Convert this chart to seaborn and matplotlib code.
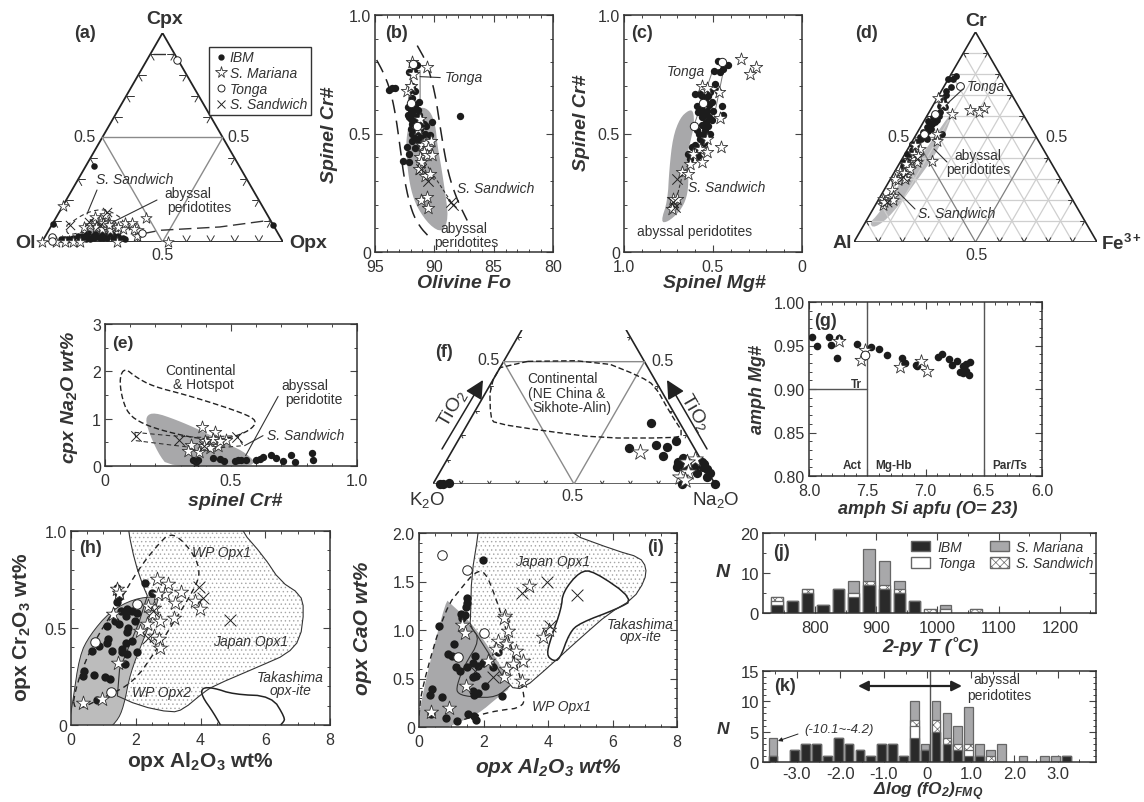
import numpy as np
import matplotlib
matplotlib.use("Agg")
import matplotlib.pyplot as plt
import seaborn as sns
from matplotlib.lines import Line2D
from matplotlib.patches import Patch, FancyArrowPatch

# ---- (a) ternary Ol-Opx-Cpx, opx and cpx fractions
a_ibm_opx = [.07,.082,.095,.11,.135,.14,.152,.165,.18,.195,.21,.222,.238,.25,.27,.285,.3,.325,.335,.032,.002,.919,.16,.175,.19,.205,.215,.23,.245,.26,.12,.15,.17,.2,.23,.26,.285,.31,.10,.085]
a_ibm_cpx = [.015,.015,.015,.015,.03,.025,.03,.035,.02,.03,.03,.035,.035,.03,.04,.03,.03,.02,.015,.364,.085,.08,.02,.015,.015,.02,.025,.02,.02,.02,.02,.02,.045,.04,.04,.04,.02,.015,.01,.01]
a_mar_opx = [0,.06,.097,.128,.159,0,.31,.524,.372,.38,.372,.332,.306,.267,.228,.189,.17,.16,.198,.255,.14,.16,.21,.24,.28,.30,.22,.19,.33,.35]
a_mar_cpx = [0,0,0,0,0,.172,0,0,.116,.029,.056,.08,.064,.072,.096,.104,.1,.08,.128,.056,.07,.12,.09,.08,.07,.09,.06,.07,.09,.06]
a_ton_opx = [.123,.03,.04,.395]
a_ton_cpx = [.872,.024,.003,.043]
a_san_opx = [.077,.197,.145,.2]
a_san_cpx = [.08,.144,.096,.08]
a_aby_opx = [.165,.19,.245,.3,.273,.194]
a_aby_cpx = [.056,.104,.104,.064,.048,.04]
a_sfield_opx = [.063,.114,.189,.304,.286,.148,.087,.063]
a_sfield_cpx = [.08,.144,.16,.096,.048,.048,.032,.08]
a_long_opx = [.40,.462,.702,.893]
a_long_cpx = [.04,.056,.072,.104]
a_top_opx = [.012,.094]
a_top_cpx = [.901,.901]

# ---- (b) olivine Fo vs spinel Cr#
b_ibm_fo = [92.6,92.1,92.1,92.3,91.9,91.6,91.3,91.1,90.8,90.4,90.7,90.2,91.2,91.5,91.9,92.0,92.2,92.0,91.7,91.4,91.3,91.9,92.2,92.1,91.6,92.1,91.9,91.6,92.1,91.7,91.5,93.8,93.6,93.3,87.85,91.9,91.5,91.7,91.4,91.1,91.9,91.6,91.9,92.0,91.3,90.9,91.6,91.2]
b_ibm_cr = [.383,.381,.414,.442,.47,.48,.47,.49,.50,.495,.53,.55,.52,.53,.54,.56,.58,.60,.60,.60,.635,.62,.61,.57,.57,.68,.70,.68,.76,.765,.79,.685,.69,.69,.575,.5,.51,.55,.56,.55,.58,.62,.65,.52,.58,.54,.44,.46]
b_mar_fo = [91.9,91.8,90.6,92.3,92.0,91.2,91.4,91.0,90.7,90.3,90.5,90.9,91.2,90.6,90.2,91.1,91.3,90.8,90.4,91.1,90.6,90.5]
b_mar_cr = [.80,.75,.78,.68,.70,.56,.52,.45,.46,.47,.44,.42,.40,.41,.41,.38,.35,.32,.33,.22,.23,.185]
b_ton_fo = [91.8,92.0,91.5]
b_ton_cr = [.795,.63,.53]
b_san_fo = [91.1,90.5,88.6,88.4]
b_san_cr = [.35,.30,.21,.2]
b_aby_fo = [91.08,90.37,89.95,89.8,89.5,89.2,88.9,89.4,90.4,91.4,91.9,92.2,92.3,91.8]
b_aby_cr = [.60,.583,.527,.449,.365,.267,.155,.098,.126,.197,.267,.365,.478,.569]
b_dashl_fo = [94.86,94.3,93.74,93.3,92.9,92.5,91.9,91.2,90.5]
b_dashl_cr = [.81,.758,.688,.59,.449,.295,.169,.105,.067]
b_dashr_fo = [91.44,90.65,89.95,89.53,89.11,88.7,88.0,87.23]
b_dashr_cr = [.871,.80,.674,.534,.407,.309,.211,.133]

# ---- (c) spinel Mg# vs Cr#
c_ibm_mg = [.47,.494,.442,.414,.46,.489,.47,.517,.601,.573,.507,.545,.592,.451,.442,.498,.582,.564,.536,.507,.564,.592,.545,.517,.573,.62,.639,.629,.582,.554,.55,.52,.56,.54,.58,.53,.6,.58,.55,.53,.56,.52]
c_ibm_cr = [.808,.765,.772,.787,.758,.709,.681,.674,.667,.667,.632,.639,.618,.618,.579,.597,.59,.569,.597,.555,.534,.513,.513,.499,.478,.442,.414,.393,.407,.492,.58,.62,.6,.55,.5,.53,.45,.43,.46,.66,.66,.57]
c_mar_mg = [.345,.258,.292,.564,.536,.464,.461,.455,.536,.573,.536,.61,.564,.629,.676,.639,.723,.704,.732]
c_mar_cr = [.815,.782,.751,.699,.691,.677,.565,.445,.478,.435,.421,.414,.379,.372,.337,.33,.225,.225,.183]
c_ton_mg = [.451,.558,.607]
c_ton_cr = [.80,.629,.53]
c_san_mg = [.704,.723,.713]
c_san_cr = [.309,.21,.19]
c_aby_mg = [.639,.614,.61,.629,.648,.639,.648,.685,.751,.788,.751,.742,.723,.685]
c_aby_cr = [.586,.583,.527,.463,.407,.309,.239,.183,.14,.14,.225,.351,.478,.555]

# ---- (d) ternary Al-Fe3+-Cr, fe and cr fractions
d_ibm_fe = [.026,.02,.031,.027,.028,.053,.035,.03,.016,.026,.038,.024,.022,.054,.106,.004,.02,.007,.013,.026,.049,.0,.03,.04,.045,.05,.04,.05,.03,.04,.035,.03,.045,.025,.02,.03,.02,.035,.045,.02]
d_ibm_cr = [.791,.775,.736,.68,.649,.641,.609,.593,.578,.546,.562,.522,.498,.49,.514,.467,.475,.419,.38,.435,.582,.775,.70,.66,.62,.60,.58,.57,.55,.53,.51,.49,.5,.46,.44,.4,.36,.56,.54,.72]
d_mar_fe = [.215,.204,.165,.097,.003,.039,.083,.1,.128,.05,.046,.041,.068,.023,.058,.035,.041,.018,.031,.02,.035,.06,.03,.055,.04,.02,.06,.03,.05,.03,.06]
d_mar_cr = [.638,.62,.628,.609,.688,.657,.514,.483,.388,.443,.396,.364,.38,.332,.316,.293,.214,.206,.174,.46,.42,.41,.37,.35,.33,.30,.30,.25,.22,.19,.2]
d_ton_fe = [.065,.029,.031]
d_ton_cr = [.741,.609,.514]
d_san_fe = [.048,.039,.06]
d_san_cr = [.309,.19,.396]
d_aby_fe = [.1,.088,.077,.052,.036,.021,.053,.091,.113,.126]
d_aby_cr = [.601,.585,.443,.301,.142,.103,.079,.142,.316,.427]

# ---- (e) spinel Cr# vs cpx Na2O
e_ibm_cr = [.349,.369,.362,.429,.455,.471,.515,.528,.541,.558,.598,.614,.627,.657,.677,.706,.737,.753,.821,.827]
e_ibm_na = [.127,.127,.077,.162,.148,.113,.113,.134,.134,.134,.134,.148,.197,.239,.169,.113,.239,.077,.268,.127]
e_mar_cr = [.385,.435,.481,.448,.429,.396,.343,.329,.373,.415,.392,.455]
e_mar_na = [.817,.711,.556,.43,.57,.535,.444,.324,.303,.373,.43,.535]
e_san_cr = [.124,.292,.392,.525,.362]
e_san_na = [.641,.549,.43,.606,.042]
e_aby_cr = [.171,.204,.283,.376,.481,.548,.598,.257,.217,.177]
e_aby_na = [1.03,1.10,.958,.746,.465,.289,.007,.007,.289,.782]
e_con_cr = [.058,.078,.124,.19,.323,.481,.587,.6,.561,.481,.376,.243,.151,.091,.065,.058]
e_con_na = [1.873,2.07,1.873,1.683,1.5,1.239,1.028,.887,.711,.57,.57,.725,.887,1.099,1.486,1.873]
e_sf_cr = [.118,.257,.376,.525,.548,.402,.283,.124,.118]
e_sf_na = [.711,.641,.606,.641,.43,.359,.43,.535,.711]

# ---- (f) ternary K2O-Na2O-TiO2, na and ti fractions
f_ibm_na = [.648,.622,.71,.754,.775,.756,.834,.829,.848,.844,.908,.912,.925,.96,1.0,.882,.024,.036,.055,.835,.845,.84,.83,.825,.86,.85,.92,.94,.955,.89]
f_ibm_ti = [.249,.146,.161,.153,.174,.116,.095,.082,.089,.075,.089,.045,.068,.045,0,0,0,0,.004,.105,.1,.09,.07,.09,.08,.08,.08,.06,.03,.07]
f_mar_na = [.67,.878,.855,.88,.862,.885]
f_mar_ti = [.129,.102,.089,.05,.027,.016]
f_con_na = [.0,.341,.514,.586,.693,.794,.746,.498,.281,.095,.068,.0]
f_con_ti = [.5,.505,.44,.402,.293,.198,.188,.188,.218,.248,.272,.402]

# ---- (g) amphibole Si vs Mg#
g_ibm_si = [7.97,7.93,7.83,7.81,7.74,7.76,7.59,7.47,7.4,7.33,7.2,7.18,7.08,7.07,6.89,6.86,6.8,6.77,6.73,6.7,6.68,6.65,6.62,6.68,6.63,6.65]
g_ibm_mg = [.96,.949,.96,.951,.959,.936,.952,.948,.946,.939,.936,.93,.928,.926,.937,.94,.934,.928,.932,.92,.926,.929,.931,.918,.916,.921]
g_mar_si = [7.74,7.52,7.55,7.22,7.04,6.99]
g_mar_mg = [.955,.945,.933,.925,.932,.921]
g_ton_si = [7.52]
g_ton_mg = [.939]

# ---- (h) opx Al2O3 vs Cr2O3
h_ibm_al = [1.41,1.46,1.49,1.43,2.29,2.49,1.53,1.72,1.87,2.03,1.7,1.98,1.36,1.49,1.1,1.77,1.72,1.15,1.1,.88,.64,1.26,1.57,1.7,1.87,2.05,1.74,1.57,1.67,.41,.36,.72,1.05,1.2,.81]
h_ibm_cr = [.708,.682,.662,.634,.73,.682,.588,.596,.588,.579,.562,.536,.536,.519,.51,.502,.479,.442,.421,.407,.381,.381,.39,.424,.433,.376,.364,.376,.316,.278,.253,.258,.247,.235,.127]
h_mar_al = [1.43,1.49,1.31,1.46,.36,.95,2.65,3.0,2.9,3.4,3.21,3.83,3.99,3.18,2.7,2.56,2.39,2.49,2.75,2.34,2.13,2.56,2.73,2.75]
h_mar_cr = [.699,.682,.57,.321,.115,.132,.751,.725,.674,.687,.631,.639,.6,.55,.674,.605,.613,.57,.536,.519,.485,.459,.445,.399]
h_ton_al = [2.03,.73,1.23]
h_ton_cr = [.622,.43,.17]
h_san_al = [3.96,4.07,4.91,2.54,2.39]
h_san_cr = [.713,.656,.54,.588,.45]
h_aby_al = [-.1,.07,.28,.59,1.2,1.93,2.65,2.63,2.23,1.82,1.62,1.41,.9,-.1]
h_aby_cr = [-.05,.115,.356,.459,.579,.644,.656,.613,.442,.27,.098,.021,-.05,-.05]
h_jap_al = [1.74,1.77,1.98,2.23,2.4,1.2,2.13,3.11,3.47,4.09,4.4,5.84,6.66,7.08,7.2,7.08,6.46,5.94,5.27,5.1]
h_jap_cr = [1.1,1.0,.837,.716,.65,.167,.098,.064,.081,.167,.201,.304,.364,.442,.596,.674,.742,.871,1.0,1.1]
h_tak_al = [4.04,4.4,5.02,6.2,6.61,6.56,6.2,4.75,4.4,4.04]
h_tak_cr = [.192,.192,.158,.149,.038,.012,-.04,-.04,.064,.149]
h_wp_al = [.02,.18,.69,1.41,2.08,2.65,3.06,3.47,3.88,3.99,3.68,3.16,2.65,1.93,1.0,.02]
h_wp_cr = [.064,.218,.424,.613,.802,.923,.991,.948,.854,.768,.665,.527,.39,.218,.141,.064]

# ---- (i) opx Al2O3 vs CaO
i_ibm_al = [1.99,1.5,1.48,1.46,1.29,1.44,1.32,.62,1.09,.89,1.01,1.74,1.15,1.27,1.48,1.68,1.99,1.84,2.28,1.66,1.76,2.06,.39,.34,.7,1.68,1.84,1.7,2.56,1.53,1.7,1.76,1.17,.83,.36,2.46]
i_ibm_ca = [1.72,1.33,1.28,1.24,1.17,1.15,1.12,1.04,.856,.753,.735,.735,.615,.58,.615,.66,.656,.632,.615,.512,.529,.426,.392,.33,.306,.375,.35,.333,.323,.134,.117,.076,.065,.093,.134,.77]
i_mar_al = [.36,.94,1.46,1.32,1.42,3.41,2.66,2.63,2.77,3.83,4.02,2.46,2.38,2.71,3.02,2.15,2.9,3.21,2.71,2.63,3.18]
i_mar_ca = [.151,.199,.426,1.05,.969,1.45,1.148,1.12,.986,.924,1.003,.89,.804,.856,.787,.684,.649,.677,.598,.512,.478]
i_ton_al = [.72,1.5,2.01,1.21]
i_ton_ca = [1.773,1.622,.969,.725]
i_san_al = [3.2,3.98,4.9,4.06,2.3,1.73]
i_san_ca = [1.378,1.498,1.361,1.045,.512,.58]
i_aby_al = [-.1,.08,.34,.86,.96,1.48,1.89,2.3,2.82,2.4,1.79,1.17,.44,-.1]
i_aby_ca = [-.1,.186,.598,1.268,1.234,1.079,.907,.701,.426,.323,.151,.065,-.05,-.1]
i_jap_al = [1.88,1.84,1.63,1.6,1.58,1.9,2.8,3.23,4.06,5.09,5.86,6.64,7.0,7.05,6.84,6.12,4.62,4.4]
i_jap_ca = [2.2,2.0,1.56,1.148,1.045,.9,.41,.392,.632,.942,1.165,1.32,1.509,1.646,1.749,1.818,2.0,2.2]
i_in_al = [1.58,1.9,1.4,1.17,1.19,1.68,2.4,2.82]
i_in_ca = [1.045,.9,.63,.426,.34,.306,.306,.426]
i_tak_al = [4.47,4.98,5.4,6.64,6.12,4.98,4.67,4.37,4.16,3.97,4.11,4.42]
i_tak_ca = [1.388,1.595,1.601,1.313,1.216,1.072,.976,.701,.691,.753,.924,1.216]
i_wp_al = [0,.08,.8,1.37,1.73,2.04,2.4,2.92,3.23,3.28,2.4,1.79,1.27]
i_wp_ca = [.117,.392,1.216,1.457,1.595,1.612,1.32,.77,.392,.203,.168,.117,.065]

# ---- (j) 2-py T histogram
j_t = [738,763,788,813,838,863,888,913,938,963,988,1013,1063]
j_ibm = [2,3,5,2,6,4,7,6,5,3,0,0,0]
j_ton = [1,0,0,0,0,1,0,0,0,0,0,1,0]
j_san = [1,0,1,0,0,0,1,1,1,0,1,0,1]
j_mar = [0,0,0,0,0,3,8,6,2,0,0,1,0]

# ---- (k) dlog fO2 histogram
k_fo2 = [-3.55,-3.05,-2.8,-2.55,-2.3,-2.05,-1.8,-1.55,-1.3,-1.05,-.8,-.55,-.3,-.05,.2,.45,.7,.95,1.2,1.45,1.7,2.2,2.7,2.95,3.2]
k_ibm = [1,2,3,3,1,4,3,2,1,3,3,1,4,2,5,3,2,1,1,0,0,0,0,0,1]
k_ton = [0,0,0,0,0,0,0,0,0,0,0,0,2,0,0,0,0,1,0,0,0,0,0,0,0]
k_san = [0,0,0,0,0,0,0,0,0,0,0,0,1,0,2,1,1,1,0,1,0,0,0,0,0]
k_mar = [3,0,0,0,0,0,0,0,0,0,0,0,3,1,3,4,3,6,2,1,3,1,1,1,0]

W, H = 1144, 803
sns.set_theme(style="ticks")
plt.rcParams["font.family"] = ["Liberation Sans", "DejaVu Sans"]
plt.rcParams["mathtext.fontset"] = "custom"
plt.rcParams["mathtext.rm"] = "Liberation Sans"
plt.rcParams["mathtext.it"] = "Liberation Sans:italic"
plt.rcParams["mathtext.bf"] = "Liberation Sans:bold"
plt.rcParams["mathtext.default"] = "regular"
plt.rcParams["hatch.linewidth"] = 0.5

DARK = "#2e2e2e"
TXT = "#333333"
FIELD = "#a8a8aa"
fig = plt.figure(figsize=(W / 100, H / 100), dpi=100, facecolor="white")


def add_ax(l, t, r, b):
    return fig.add_axes([l / W, 1 - b / H, (r - l) / W, (b - t) / H])


def txt(x, y, s, size=10, **kw):
    kw.setdefault("ha", "center")
    kw.setdefault("va", "center")
    kw.setdefault("color", TXT)
    fig.text(x / W, 1 - y / H, s, fontsize=size, **kw)


def leader(x, y, color="#333333", lw=0.8, ls="-"):
    xs = np.array(x) / W
    ys = 1 - np.array(y) / H
    fig.add_artist(Line2D(xs, ys, color=color, lw=lw, ls=ls))


def smooth(x, y, closed=True, n=2):
    # corner cutting, just to round the hand read outlines
    x, y = np.array(x, float), np.array(y, float)
    for _ in range(n):
        if closed:
            x2, y2 = np.roll(x, -1), np.roll(y, -1)
            x, y = np.c_[.75 * x + .25 * x2, .25 * x + .75 * x2].ravel(), np.c_[.75 * y + .25 * y2, .25 * y + .75 * y2].ravel()
        else:
            ax_, ay_ = x[:-1], y[:-1]
            bx_, by_ = x[1:], y[1:]
            x = np.r_[x[0], np.c_[.75 * ax_ + .25 * bx_, .25 * ax_ + .75 * bx_].ravel(), x[-1]]
            y = np.r_[y[0], np.c_[.75 * ay_ + .25 * by_, .25 * ay_ + .75 * by_].ravel(), y[-1]]
    if closed:
        x, y = np.r_[x, x[0]], np.r_[y, y[0]]
    return x, y


def field(ax, x, y, grow=1.06, **kw):
    # smoothing pulls the outline in, so push it back out a little
    sx, sy = smooth(x, y)
    cx, cy = sx.mean(), sy.mean()
    ax.fill(cx + (sx - cx) * grow, cy + (sy - cy) * grow, **kw)


def outline(ax, x, y, closed=False, n=2, **kw):
    sx, sy = smooth(x, y, closed=closed, n=n)
    ax.plot(sx, sy, **kw)


def points(ax, ibm=None, mar=None, ton=None, san=None, s=28, clip=True):
    if ibm:
        sns.scatterplot(x=ibm[0], y=ibm[1], ax=ax, color="#1c1c1c", s=s, linewidth=0, legend=False, zorder=4, clip_on=clip)
    if mar:
        sns.scatterplot(x=mar[0], y=mar[1], ax=ax, marker="*", color="white", edgecolor="#333333", s=s * 3.2, linewidth=0.6, legend=False, zorder=5, clip_on=clip)
    if ton:
        sns.scatterplot(x=ton[0], y=ton[1], ax=ax, color="white", edgecolor="#222222", s=s * 1.3, linewidth=0.7, legend=False, zorder=6, clip_on=clip)
    if san:
        sns.scatterplot(x=san[0], y=san[1], ax=ax, marker="x", color="#222222", s=s * 2, linewidth=0.7, legend=False, zorder=6, clip_on=clip)


def style(ax, xticks, xlabels, xminor, yticks, ylabels, yminor, tick_size=11.5, xpad=5):
    ax.set_xticks(xticks, xlabels)
    ax.set_yticks(yticks, ylabels)
    ax.xaxis.set_minor_locator(matplotlib.ticker.MultipleLocator(xminor))
    ax.yaxis.set_minor_locator(matplotlib.ticker.MultipleLocator(yminor))
    ax.tick_params(which="major", direction="in", top=True, right=True, length=5, width=0.8, color="#444444",
                   labelsize=tick_size, labelcolor=TXT, pad=3)
    ax.tick_params(axis="x", which="major", pad=xpad)
    ax.tick_params(which="minor", direction="in", top=True, right=True, length=2.5, width=0.7, color="#444444")
    for sp in ax.spines.values():
        sp.set_color("#333333")
        sp.set_linewidth(1.1)
        sp.set_visible(True)


def labels(ax, xlabel, xpos, ylabel, ypos, size=13.5, style_="italic", yrot=90):
    ax.set_xlabel(xlabel, fontsize=size, fontweight="bold", fontstyle=style_, color=TXT, va="center")
    ax.set_ylabel(ylabel, fontsize=size, fontweight="bold", fontstyle=style_, color=TXT, va="center", ha="center", rotation=yrot)
    ax.xaxis.set_label_coords(xpos[0] / W, 1 - xpos[1] / H, transform=fig.transFigure)
    ax.yaxis.set_label_coords(ypos[0] / W, 1 - ypos[1] / H, transform=fig.transFigure)


def tern(right, top):
    right, top = np.array(right, float), np.array(top, float)
    return right + top / 2, top


def tern_ticks(ax, tmax=0.9, d=0.03):
    for t in np.arange(0.1, tmax + 0.01, 0.1):
        if abs(t - .5) < 0.01:
            continue
        for p, q in [((0, t), (d, t)), ((0, t), (d, t - d)), ((1 - t, t), (1 - t - d, t)), ((1 - t, t), (1 - t, t - d))]:
            xx, yy = tern([p[0], q[0]], [p[1], q[1]])
            ax.plot(xx, yy, color="#333333", lw=0.7)
    for t in np.arange(0.1, 0.95, 0.1):
        if abs(t - .5) < 0.01:
            continue
        for p, q in [((t, 0), (t - d, d)), ((t, 0), (t, d))]:
            xx, yy = tern([p[0], q[0]], [p[1], q[1]])
            ax.plot(xx, yy, color="#333333", lw=0.7)


def tern_inner(ax, lw=1.0):
    xx, yy = tern([0, .5, .5, 0], [.5, .5, 0, .5])
    ax.plot(xx, yy, color="#8a8a8a", lw=lw)


def tern_axes(l, t, r, b, ymax=1.0):
    ax = add_ax(l, t, r, b)
    ax.set_xlim(0, 1)
    ax.set_ylim(0, ymax)
    ax.axis("off")
    return ax


# ---------- (a)
ax = tern_axes(42, 34, 283, 243)
xx, yy = tern([0, 1, 0, 0], [0, 0, 1, 0])
ax.plot(xx, yy, color="#222222", lw=1.3)
tern_inner(ax)
tern_ticks(ax)
xx, yy = tern(a_aby_opx, a_aby_cpx)
field(ax, xx, yy, color=FIELD, lw=0)
xx, yy = tern(a_sfield_opx, a_sfield_cpx)
outline(ax, xx, yy, color="#333333", lw=0.8, ls=(0, (4, 3)))
xx, yy = tern(a_long_opx, a_long_cpx)
ax.plot(xx, yy, color="#333333", lw=1.0, ls=(0, (9, 4)))
xx, yy = tern(a_top_opx, a_top_cpx)
ax.plot(xx, yy, color="#333333", lw=1.0, ls=(0, (9, 4)))
points(ax, tern(a_ibm_opx, a_ibm_cpx), tern(a_mar_opx, a_mar_cpx), tern(a_ton_opx, a_ton_cpx), tern(a_san_opx, a_san_cpx), s=22, clip=False)
leader([97, 87], [191, 215])
leader([157, 113], [201, 223])
txt(165, 20, "Cpx", 14, fontweight="bold")
txt(25, 243, "Ol", 14, fontweight="bold")
txt(308, 243, "Opx", 14, fontweight="bold")
txt(84, 138, "0.5", 11.5)
txt(238, 137, "0.5", 11.5)
txt(162, 256, "0.5", 11.5)
txt(85, 34, "(a)", 13, fontweight="bold")
txt(135, 180, "S. Sandwich", 10, fontstyle="italic")
txt(188, 194, "abyssal", 10)
txt(199, 208, "peridotites", 10)
leg_handles = [
    Line2D([], [], marker="o", ls="", color="#1c1c1c", ms=3.5, label="IBM"),
    Line2D([], [], marker="*", ls="", mfc="white", mec="#333333", mew=0.6, ms=8.5, label="S. Mariana"),
    Line2D([], [], marker="o", ls="", mfc="white", mec="#222222", mew=0.7, ms=5, label="Tonga"),
    Line2D([], [], marker="x", ls="", color="#222222", mew=0.7, ms=6, label="S. Sandwich"),
]
ax.legend(handles=leg_handles, loc="upper left", bbox_to_anchor=(209 / W, 1 - 48 / H), bbox_transform=fig.transFigure,
          borderaxespad=0, borderpad=0.25, labelspacing=0.12, handletextpad=0.05, handlelength=1.2, fancybox=False, framealpha=1,
          edgecolor="#333333", prop={"style": "italic", "size": 10}, labelcolor=TXT)

# ---------- (b)
ax = add_ax(375, 16, 553, 253)
field(ax, b_aby_fo, b_aby_cr, color=FIELD, lw=0)
outline(ax, b_dashl_fo, b_dashl_cr, color="#222222", lw=1.1, ls=(0, (9, 5)))
outline(ax, b_dashr_fo, b_dashr_cr, color="#222222", lw=1.1, ls=(0, (9, 5)))
ax.plot([92.2, 91.9, 91.2, 91.2], [.63, .765, .765, .62], color="#777777", lw=0.8)
ax.plot([91.2, 89.5], [.74, .736], color="#333333", lw=0.8)
ax.plot([90.8, 88.4], [.38, .197], color="#333333", lw=0.8, ls=(0, (3, 2)))
points(ax, (b_ibm_fo, b_ibm_cr), (b_mar_fo, b_mar_cr), (b_ton_fo, b_ton_cr), (b_san_fo, b_san_cr))
ax.set_xlim(95, 80)
ax.set_ylim(0, 1)
style(ax, [95, 90, 85, 80], ["95", "90", "85", "80"], 1, [0, .5, 1], ["0", "0.5", "1.0"], .1)
labels(ax, "Olivine Fo", (464, 283), "Spinel Cr#", (330, 135), 14)
txt(396, 34, "(b)", 13, fontweight="bold")
txt(445, 78, "Tonga", 10, fontstyle="italic", ha="left")
txt(457, 189, "S. Sandwich", 10, fontstyle="italic", ha="left")
txt(464, 229, "abyssal", 10)
txt(466, 243, "peridotites", 10)

# ---------- (c)
ax = add_ax(624, 16, 802, 253)
field(ax, c_aby_mg, c_aby_cr, color=FIELD, lw=0)
ax.plot([.61, .50, .44, .50], [.527, .77, .77, .55], color="#777777", lw=0.7)
ax.plot([.72, .67, .60], [.18, .33, .42], color="#333333", lw=0.8, ls=(0, (3, 2)))
points(ax, (c_ibm_mg, c_ibm_cr), (c_mar_mg, c_mar_cr), (c_ton_mg, c_ton_cr), (c_san_mg, c_san_cr))
ax.set_xlim(1, 0)
ax.set_ylim(0, 1)
style(ax, [1, .5, 0], ["1.0", "0.5", "0"], .1, [0, .5, 1], ["0", "0.5", "1.0"], .1)
labels(ax, "Spinel Mg#", (714, 283), "Spinel Cr#", (582, 123), 14)
txt(642, 34, "(c)", 13, fontweight="bold")
txt(667, 72, "Tonga", 10, fontstyle="italic", ha="left")
txt(688, 188, "S. Sandwich", 10, fontstyle="italic", ha="left")
txt(695, 232, "abyssal peridotites", 10)

# ---------- (d)
ax = tern_axes(854, 33, 1097, 243)
for t in np.arange(0.1, 0.95, 0.1):
    col = "#808080" if abs(t - .5) < .01 else "#cfcfcf"
    for r, u in [([0, 1 - t], [t, t]), ([t, t], [0, 1 - t]), ([1 - t, 0], [0, 1 - t])]:
        xx, yy = tern(r, u)
        ax.plot(xx, yy, color=col, lw=0.9)
xx, yy = tern([0, 1, 0, 0], [0, 0, 1, 0])
ax.plot(xx, yy, color="#222222", lw=1.2)
tern_ticks(ax, d=0.02)
xx, yy = tern(d_aby_fe, d_aby_cr)
field(ax, xx, yy, color="#b9b9bb", lw=0)
points(ax, tern(d_ibm_fe, d_ibm_cr), tern(d_mar_fe, d_mar_cr), tern(d_ton_fe, d_ton_cr), tern(d_san_fe, d_san_cr), s=24, clip=False)
leader([963, 948], [90, 104])
leader([947, 934], [163, 150])
leader([915, 898], [210, 193])
txt(976, 21, "Cr", 14, fontweight="bold")
txt(842, 243, "Al", 14, fontweight="bold")
txt(1121, 244, r"Fe$^{3+}$", 13.5, fontweight="bold")
txt(898, 137, "0.5", 11.5)
txt(1056, 137, "0.5", 11.5)
txt(976, 256, "0.5", 11.5)
txt(866, 33, "(d)", 13, fontweight="bold")
txt(986, 87, "Tonga", 10, fontstyle="italic")
txt(978, 156, "abyssal", 10)
txt(978, 170, "peridotites", 10)
txt(957, 214, "S. Sandwich", 10, fontstyle="italic")

# ---------- (e)
ax = add_ax(105, 325, 357, 467)
field(ax, e_aby_cr, e_aby_na, color=FIELD, lw=0)
outline(ax, e_con_cr[:-1], e_con_na[:-1], closed=True, color="#222222", lw=1.0, ls=(0, (4, 2)))
ax.plot(e_sf_cr, e_sf_na, color="#333333", lw=0.8, ls=(0, (4, 3)))
ax.plot([.687, .558], [1.47, .218], color="#333333", lw=0.8)
ax.plot([.627, .554], [.641, .43], color="#333333", lw=0.8)
points(ax, (e_ibm_cr, e_ibm_na), (e_mar_cr, e_mar_na), None, (e_san_cr, e_san_na))
ax.set_xlim(0, 1)
ax.set_ylim(0, 3)
style(ax, [0, .5, 1], ["0", "0.5", "1.0"], .1, [0, 1, 2, 3], ["0", "1", "2", "3"], .5)
labels(ax, "spinel Cr#", (235, 502), r"cpx Na$_2$O wt%", (70, 397), 14)
txt(123, 344, "(e)", 12.5, fontweight="bold")
txt(201, 371, "Continental", 10)
txt(203, 385, "& Hotspot", 10)
txt(305, 386, "abyssal", 10)
txt(314, 400, "peridotite", 10)
txt(267, 436, "S. Sandwich", 10, fontstyle="italic", ha="left")

# ---------- (f)
ymax_f = 154 / 244.67
ax = tern_axes(433, 331, 715, 485, ymax=ymax_f)
xx, yy = tern([0, 0], [0, ymax_f])
ax.plot(xx, yy, color="#222222", lw=1.2)
xx, yy = tern([1, 1 - ymax_f], [0, ymax_f])
ax.plot(xx, yy, color="#222222", lw=1.2)
xx, yy = tern([0, 1], [0, 0])
ax.plot(xx, yy, color="#555555", lw=1.3)
tern_inner(ax)
tern_ticks(ax, tmax=0.6, d=0.012)
xx, yy = tern(f_con_na, f_con_ti)
outline(ax, xx, yy, closed=True, n=1, color="#222222", lw=1.0, ls=(0, (4, 2)))
points(ax, tern(f_ibm_na, f_ibm_ti), tern(f_mar_na, f_mar_ti), s=45, clip=False)
for p0, p1 in [((442, 450), (483, 381)), ((707, 450), (667, 381))]:
    fig.add_artist(FancyArrowPatch((p0[0] / W, 1 - p0[1] / H), (p1[0] / W, 1 - p1[1] / H), transform=fig.transFigure,
                                   arrowstyle="-|>", mutation_scale=28, color="#222222", lw=1.1, shrinkA=0, shrinkB=0))
txt(452, 408, r"TiO$_2$", 14, rotation=60)
txt(695, 413, r"TiO$_2$", 14, rotation=-60)
txt(444, 353, "(f)", 13, fontweight="bold")
txt(488, 361, "0.5", 11.5)
txt(663, 362, "0.5", 11.5)
txt(573, 497, "0.5", 11.5)
txt(427, 500, r"K$_2$O", 13.5)
txt(716, 500, r"Na$_2$O", 13.5)
txt(563, 379, "Continental", 10)
txt(567, 394, "(NE China &", 10)
txt(572, 408, "Sikhote-Alin)", 10)

# ---------- (g)
ax = add_ax(809, 303, 1042, 477)
ax.axvline(7.5, color="#555555", lw=1.0)
ax.axvline(6.5, color="#555555", lw=1.0)
ax.plot([8, 7.5], [.9, .9], color="#555555", lw=1.0)
points(ax, (g_ibm_si, g_ibm_mg), (g_mar_si, g_mar_mg), (g_ton_si, g_ton_mg), None, s=30)
ax.set_xlim(8, 6)
ax.set_ylim(.8, 1)
style(ax, [8, 7.5, 7, 6.5, 6], ["8.0", "7.5", "7.0", "6.5", "6.0"], .1,
      [.8, .85, .9, .95, 1], ["0.80", "0.85", "0.90", "0.95", "1.00"], .01)
labels(ax, "amph Si apfu (O= 23)", (928, 510), "amph Mg#", (757, 390), 13)
txt(826, 321, "(g)", 13, fontweight="bold")
txt(856, 385, "Tr", 8.5, fontweight="bold")
txt(852, 466, "Act", 8.5, fontweight="bold")
txt(894, 466, "Mg-Hb", 8.5, fontweight="bold")
txt(1010, 466, "Par/Ts", 8.5, fontweight="bold")

# ---------- (h)
ax = add_ax(71, 532, 330, 726)
sx, sy = smooth(h_jap_al, h_jap_cr, n=1)
ax.fill(sx, sy, facecolor="white", edgecolor="#a5a5a5", hatch="....", lw=0)
ax.plot(sx, sy, color="#333333", lw=0.8)
field(ax, h_aby_al, h_aby_cr, grow=1.02, facecolor="#bcbcbc", edgecolor="#333333", lw=0.7)
field(ax, h_tak_al, h_tak_cr, grow=1.0, facecolor="white", edgecolor="#222222", lw=1.1)
outline(ax, h_wp_al[:-1], h_wp_cr[:-1], closed=True, color="#222222", lw=1.0, ls=(0, (4, 3)))
points(ax, (h_ibm_al, h_ibm_cr), (h_mar_al, h_mar_cr), (h_ton_al, h_ton_cr), (h_san_al, h_san_cr), s=36)
ax.set_xlim(0, 8)
ax.set_ylim(0, 1)
style(ax, [0, 2, 4, 6, 8], ["0", "2", "4", "6", "8"], .5, [0, .5, 1], ["0", "0.5", "1.0"], .1)
labels(ax, r"opx Al$_2$O$_3$ wt%", (200, 762), r"opx Cr$_2$O$_3$ wt%", (22, 627), 15, "normal")
txt(91, 549, "(h)", 13, fontweight="bold")
txt(222, 553, "WP Opx1", 10, fontstyle="italic")
txt(251, 642, "Japan Opx1", 10, fontstyle="italic")
txt(290, 678, "Takashima", 10, fontstyle="italic")
txt(290, 691, "opx-ite", 10, fontstyle="italic")
txt(162, 693, "WP Opx2", 10, fontstyle="italic")

# ---------- (i)
ax = add_ax(419, 534, 677, 728)
sx, sy = smooth(i_jap_al, i_jap_ca, n=1)
ax.fill(sx, sy, facecolor="white", edgecolor="#a5a5a5", hatch="....", lw=0)
ax.plot(sx, sy, color="#333333", lw=0.8)
field(ax, i_aby_al, i_aby_ca, color=FIELD, lw=0)
outline(ax, i_in_al, i_in_ca, color="#333333", lw=0.8)
field(ax, i_tak_al, i_tak_ca, grow=1.02, facecolor="white", edgecolor="#222222", lw=1.1)
outline(ax, i_wp_al, i_wp_ca, color="#222222", lw=1.0, ls=(0, (4, 3)))
points(ax, (i_ibm_al, i_ibm_ca), (i_mar_al, i_mar_ca), (i_ton_al, i_ton_ca), (i_san_al, i_san_ca), s=36)
ax.set_xlim(0, 8)
ax.set_ylim(0, 2)
style(ax, [0, 2, 4, 6, 8], ["0", "2", "4", "6", "8"], .5, [0, .5, 1, 1.5, 2], ["0", "0.5", "1.0", "1.5", "2.0"], .1)
labels(ax, r"opx Al$_2$O$_3$ wt%", (548, 768), r"opx CaO wt%", (362, 628), 15)
txt(655, 548, "(i)", 13, fontweight="bold")
txt(553, 562, "Japan Opx1", 10, fontstyle="italic")
txt(640, 625, "Takashima", 10, fontstyle="italic")
txt(640, 637, "opx-ite", 10, fontstyle="italic")
txt(562, 707, "WP Opx1", 10, fontstyle="italic")


# ---------- (j), (k) stacked histograms
def stacked(ax, centres, ibm, ton, san, mar, width):
    ibm, ton, san, mar = map(np.array, (ibm, ton, san, mar))
    layers = [
        (ibm + ton + san + mar, FIELD, None),
        (ibm + ton + san, "white", "xxxx"),
        (ibm + ton, "white", None),
        (ibm, "#2a2a2a", None),
    ]
    for vals, col, hat in layers:
        sns.barplot(x=centres, y=vals, ax=ax, native_scale=True, orient="x", color=col, saturation=1, width=width,
                    edgecolor="#666666", linewidth=0.9, hatch=hat, errorbar=None)


ax = add_ax(763, 534, 1096, 614)
stacked(ax, j_t, j_ibm, j_ton, j_san, j_mar, 0.74)
ax.set_xlim(715, 1259)
ax.set_ylim(0, 20)
style(ax, [800, 900, 1000, 1100, 1200], ["800", "900", "1000", "1100", "1200"], 50, [0, 10, 20], ["0", "10", "20"], 5, 12)
labels(ax, "2-py T (˚C)", (930, 647), "N", (723, 573), 14, yrot=0)
txt(782, 553, "(j)", 13, fontweight="bold")
ax.legend(handles=[Patch(fc="#2a2a2a", ec="#666666", label="IBM"), Patch(fc="white", ec="#666666", label="Tonga"),
                   Patch(fc=FIELD, ec="#666666", label="S. Mariana"), Patch(fc="white", ec="#666666", hatch="xxxx", label="S. Sandwich")],
          ncol=2, loc="upper left", bbox_to_anchor=(911 / W, 1 - 541 / H), bbox_transform=fig.transFigure, frameon=False, borderpad=0,
          borderaxespad=0, labelspacing=0.15, handletextpad=0.5, handlelength=1.4, handleheight=0.8, columnspacing=1.0,
          prop={"style": "italic", "size": 10}, labelcolor=TXT)

ax = add_ax(763, 672, 1096, 763)
stacked(ax, k_fo2, k_ibm, k_ton, k_san, k_mar, 0.8)
ax.axvline(0.05, color="#555555", lw=1.0)
ax.set_xlim(-3.78, 3.88)
ax.set_ylim(0, 15)
style(ax, [-3, -2, -1, 0, 1, 2, 3], ["-3.0", "-2.0", "-1.0", "0", "1.0", "2.0", "3.0"], .5, [0, 5, 10, 15], ["0", "5", "10", "15"], 1, 12, xpad=3)
labels(ax, r"Δlog (fO$_2$)$_{FMQ}$", (928, 792), "N", (723, 730), 12.5, yrot=0)
txt(785, 687, "(k)", 13, fontweight="bold")
txt(997, 680, "abyssal", 10)
txt(999, 696, "peridotites", 10)
txt(804, 730, "(-10.1~-4.2)", 9.5, fontstyle="italic", ha="left")
fig.add_artist(FancyArrowPatch((858 / W, 1 - 687 / H), (962 / W, 1 - 687 / H), transform=fig.transFigure,
                               arrowstyle="<|-|>", mutation_scale=15, color="#222222", lw=1.6, shrinkA=0, shrinkB=0))
fig.add_artist(FancyArrowPatch((798 / W, 1 - 735 / H), (778 / W, 1 - 742 / H), transform=fig.transFigure,
                               arrowstyle="-|>", mutation_scale=6, color="#222222", lw=0.7, shrinkA=0, shrinkB=0))

fig.savefig("out.png", dpi=100, facecolor="white")
